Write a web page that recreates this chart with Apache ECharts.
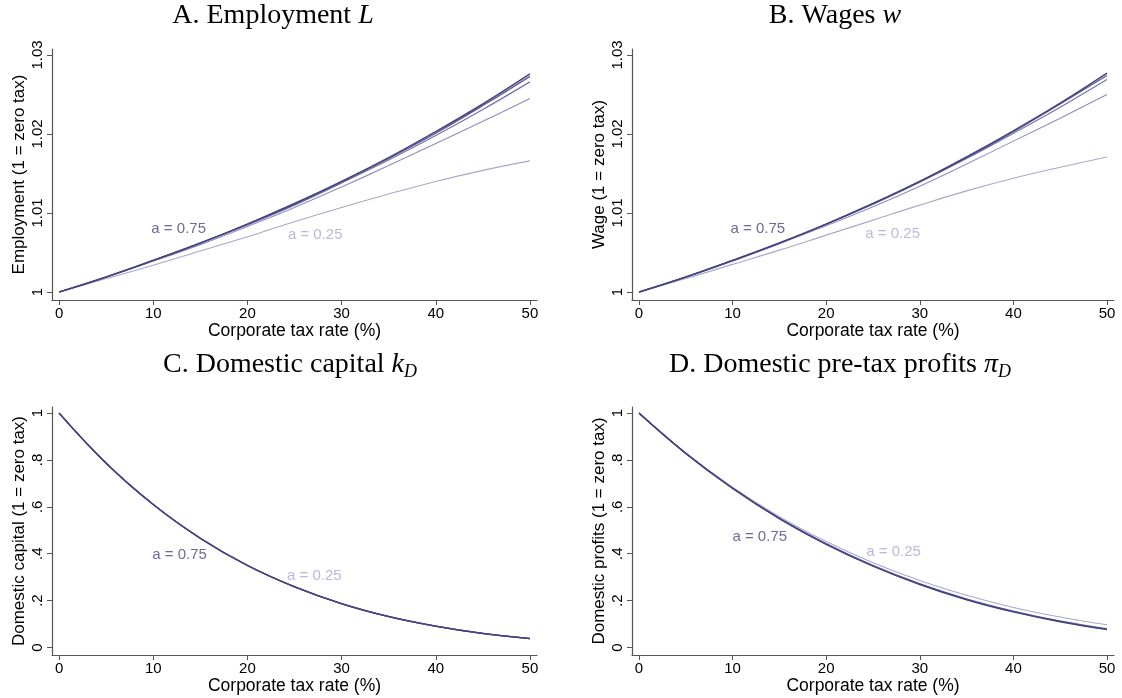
<!DOCTYPE html>
<html>
<head>
<meta charset="utf-8">
<script src="https://cdn.jsdelivr.net/npm/echarts@6/dist/echarts.min.js"></script>
<style>html,body{margin:0;padding:0;background:#fff}#c{width:1122px;height:698px}</style>
</head>
<body>
<div id="c"></div>
<script>
// ---------- data ----------
const taxRate = [0, 5, 10, 15, 20, 25, 30, 35, 40, 45, 50];
const aLevels = ['0.25', '0.375', '0.5', '0.625', '0.75'];
const xTicks = [0, 10, 20, 30, 40, 50];
const yTicksAB = [1, 1.01, 1.02, 1.03];
const yTickLabelsAB = ['1', '1.01', '1.02', '1.03'];
const yTicksCD = [0, 0.2, 0.4, 0.6, 0.8, 1];
const yTickLabelsCD = ['0', '.2', '.4', '.6', '.8', '1'];

// Panel A: Employment
const emp_a25  = [1, 1.0017, 1.0034, 1.0052, 1.0070, 1.0089, 1.0107, 1.0124, 1.0140, 1.0154, 1.0166];
const emp_a375 = [1, 1.0019, 1.0039, 1.0060, 1.0083, 1.0107, 1.0133, 1.0160, 1.0188, 1.0216, 1.0245];
const emp_a50  = [1, 1.0019, 1.0040, 1.0062, 1.0085, 1.0110, 1.0138, 1.0167, 1.0198, 1.0231, 1.0266];
const emp_a625 = [1, 1.0019, 1.0040, 1.0062, 1.0086, 1.0111, 1.0139, 1.0169, 1.0201, 1.0236, 1.0273];
const emp_a75  = [1, 1.0019, 1.0040, 1.0062, 1.0086, 1.0112, 1.0140, 1.0170, 1.0203, 1.0238, 1.0276];
// Panel B: Wages
const wage_a25  = [1, 1.0017, 1.0035, 1.0053, 1.0072, 1.0091, 1.0110, 1.0128, 1.0144, 1.0158, 1.0171];
const wage_a375 = [1, 1.0019, 1.0039, 1.0061, 1.0084, 1.0108, 1.0134, 1.0162, 1.0191, 1.0220, 1.0250];
const wage_a50  = [1, 1.0019, 1.0040, 1.0062, 1.0086, 1.0111, 1.0139, 1.0169, 1.0201, 1.0234, 1.0269];
const wage_a625 = [1, 1.0019, 1.0040, 1.0062, 1.0086, 1.0112, 1.0140, 1.0170, 1.0203, 1.0238, 1.0274];
const wage_a75  = [1, 1.0019, 1.0040, 1.0062, 1.0086, 1.0112, 1.0140, 1.0171, 1.0204, 1.0239, 1.0277];
// Panel C: Domestic capital
const cap_a25  = [1, 0.786, 0.610, 0.466, 0.350, 0.259, 0.187, 0.132, 0.091, 0.060, 0.038];
const cap_a375 = [1, 0.786, 0.610, 0.466, 0.350, 0.259, 0.187, 0.132, 0.091, 0.060, 0.038];
const cap_a50  = [1, 0.786, 0.610, 0.466, 0.350, 0.259, 0.187, 0.132, 0.091, 0.060, 0.038];
const cap_a625 = [1, 0.786, 0.610, 0.466, 0.350, 0.259, 0.187, 0.132, 0.091, 0.060, 0.038];
const cap_a75  = [1, 0.786, 0.610, 0.466, 0.350, 0.259, 0.187, 0.132, 0.091, 0.060, 0.038];
// Panel D: Domestic pre-tax profits
const prof_a25  = [1, 0.830, 0.684, 0.558, 0.452, 0.362, 0.286, 0.223, 0.171, 0.130, 0.097];
const prof_a375 = [1, 0.829, 0.681, 0.553, 0.444, 0.351, 0.273, 0.208, 0.156, 0.114, 0.081];
const prof_a50  = [1, 0.828, 0.680, 0.551, 0.442, 0.349, 0.271, 0.206, 0.154, 0.112, 0.079];
const prof_a625 = [1, 0.828, 0.679, 0.550, 0.441, 0.348, 0.270, 0.205, 0.153, 0.111, 0.078];
const prof_a75  = [1, 0.828, 0.679, 0.550, 0.440, 0.347, 0.269, 0.204, 0.152, 0.110, 0.077];

// in-plot annotations [x, y, text]
const annotA = [[12.7, 1.0080, 'a = 0.75'], [27.2, 1.0072, 'a = 0.25']];
const annotB = [[12.7, 1.0080, 'a = 0.75'], [27.1, 1.0073, 'a = 0.25']];
const annotC = [[12.8, 0.396, 'a = 0.75'], [27.1, 0.307, 'a = 0.25']];
const annotD = [[12.9, 0.472, 'a = 0.75'], [27.2, 0.410, 'a = 0.25']];

// ---------- styling ----------
const lineColors = ['#aaa7cd', '#908dbd', '#7673aa', '#5d5a96', '#46437f'];
const lineWidths = [1.1, 1.1, 1.2, 1.3, 1.5];
const axisColor = '#555';
const sans = 'Liberation Sans, Arial, sans-serif';
const serif = 'Liberation Serif, DejaVu Serif, serif';

const panels = [
  { grid: {left: 52, top: 49, width: 485, height: 251}, ymin: 0.99899, ymax: 1.03076,
    ticks: yTicksAB, tickLabels: yTickLabelsAB, yname: 'Employment (1 = zero tax)',
    data: [emp_a25, emp_a375, emp_a50, emp_a625, emp_a75], annot: annotA },
  { grid: {left: 632, top: 49, width: 482, height: 251}, ymin: 0.99899, ymax: 1.03076,
    ticks: yTicksAB, tickLabels: yTickLabelsAB, yname: 'Wage (1 = zero tax)',
    data: [wage_a25, wage_a375, wage_a50, wage_a625, wage_a75], annot: annotB },
  { grid: {left: 52, top: 407, width: 485, height: 248}, ymin: -0.032, ymax: 1.026,
    ticks: yTicksCD, tickLabels: yTickLabelsCD, yname: 'Domestic capital (1 = zero tax)',
    data: [cap_a25, cap_a375, cap_a50, cap_a625, cap_a75], annot: annotC },
  { grid: {left: 632, top: 407, width: 482, height: 248}, ymin: -0.032, ymax: 1.026,
    ticks: yTicksCD, tickLabels: yTickLabelsCD, yname: 'Domestic profits (1 = zero tax)',
    data: [prof_a25, prof_a375, prof_a50, prof_a625, prof_a75], annot: annotD }
];

const grids = [], xAxes = [], yAxes = [], series = [];
panels.forEach((p, i) => {
  grids.push(p.grid);
  xAxes.push({
    type: 'value', gridIndex: i, min: -0.75, max: 50.75,
    name: 'Corporate tax rate (%)', nameLocation: 'middle', nameGap: 20,
    nameTextStyle: {fontFamily: sans, fontSize: 17.5, color: '#000'},
    axisLine: {onZero: false, lineStyle: {color: axisColor, width: 1.2}},
    axisTick: {show: true, length: 5, lineStyle: {color: axisColor}, customValues: xTicks},
    axisLabel: {fontFamily: sans, fontSize: 15, color: '#000', margin: 6, customValues: xTicks,
                formatter: v => String(v)},
    splitLine: {show: false}
  });
  yAxes.push({
    type: 'value', gridIndex: i, min: p.ymin, max: p.ymax,
    name: p.yname, nameLocation: 'middle', nameRotate: 90, nameGap: 24,
    nameTextStyle: {fontFamily: sans, fontSize: 17, color: '#000'},
    axisLine: {onZero: false, lineStyle: {color: axisColor, width: 1.2}},
    axisTick: {show: true, length: 5, lineStyle: {color: axisColor}, customValues: p.ticks},
    axisLabel: {fontFamily: sans, fontSize: 15, color: '#000', margin: 7, rotate: 90,
                customValues: p.ticks,
                formatter: v => { const k = p.ticks.findIndex(t => Math.abs(t - v) < 1e-9); return k >= 0 ? p.tickLabels[k] : ''; }},
    splitLine: {show: false}
  });
  p.data.forEach((vals, j) => {
    series.push({
      type: 'line', xAxisIndex: i, yAxisIndex: i, smooth: 0.4, showSymbol: false, silent: true,
      data: taxRate.map((t, k) => [t, vals[k]]),
      lineStyle: {color: lineColors[j], width: lineWidths[j]}
    });
  });
  p.annot.forEach((a, j) => {
    series.push({
      type: 'scatter', xAxisIndex: i, yAxisIndex: i, symbolSize: 1, silent: true,
      itemStyle: {color: 'rgba(0,0,0,0)'},
      data: [[a[0], a[1]]],
      label: {show: true, position: 'inside', formatter: a[2], fontFamily: sans, fontSize: 15,
              color: j === 0 ? lineColors[4] : lineColors[0]}
    });
  });
});

const rich = {
  i: {fontFamily: serif, fontSize: 28, fontStyle: 'italic', color: '#000'},
  sub: {fontFamily: serif, fontSize: 18, fontStyle: 'italic', color: '#000', padding: [14, 0, 0, 0]}
};
const titles = [
  {text: 'A. Employment {i|L}', x: 273, y: 16},
  {text: 'B. Wages {i|w}', x: 835, y: 16},
  {text: 'C. Domestic capital {i|k}{sub|D}', x: 290, y: 365},
  {text: 'D. Domestic pre-tax profits {i|π}{sub|D}', x: 840, y: 365}
];

const chart = echarts.init(document.getElementById('c'), null, {renderer: 'canvas'});
chart.setOption({
  animation: false,
  backgroundColor: '#fff',
  grid: grids, xAxis: xAxes, yAxis: yAxes, series: series,
  graphic: titles.map(t => ({
    type: 'text', x: t.x, y: t.y, silent: true,
    style: {text: t.text, align: 'center', verticalAlign: 'middle', fontFamily: serif, fontSize: 28,
            fill: '#000', rich: rich}
  }))
});
</script>
</body>
</html>
